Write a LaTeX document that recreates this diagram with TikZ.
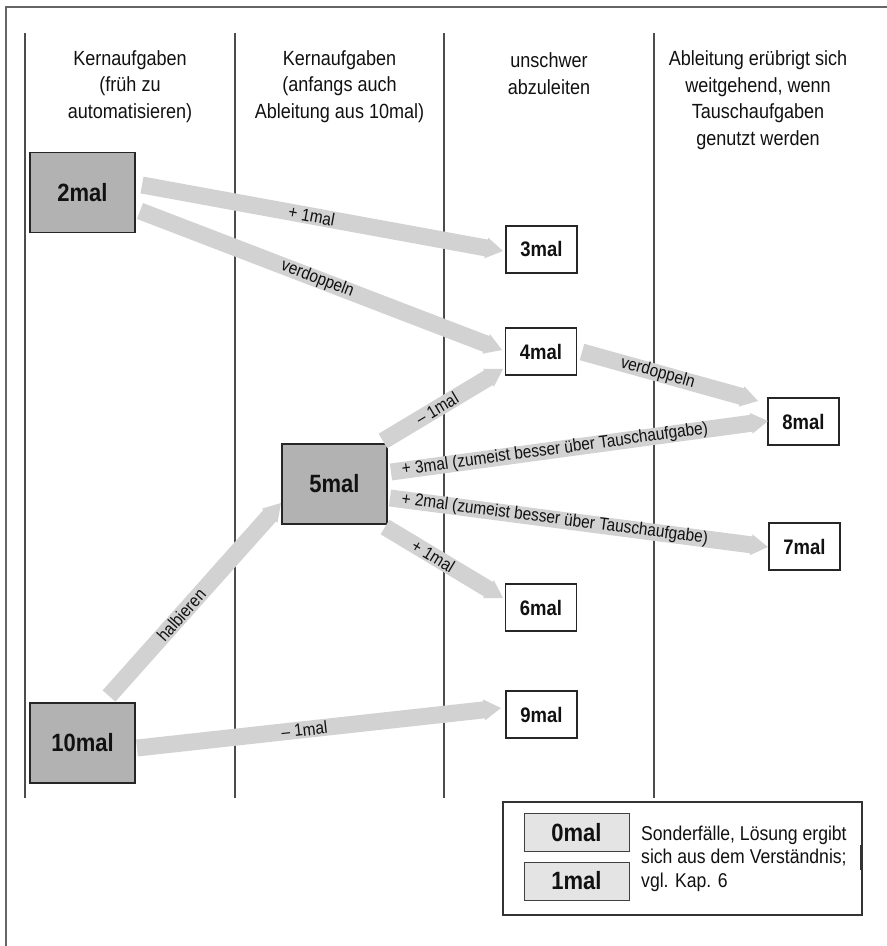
\documentclass[tikz,border=0pt]{standalone}
\usepackage{fontspec}
\setmainfont{Liberation Sans}[FakeStretch=0.88]
\usetikzlibrary{calc}
\definecolor{boxgray}{HTML}{B2B2B2}
\definecolor{arrowgray}{HTML}{D1D2D1}
\definecolor{leggray}{HTML}{E4E4E4}
\definecolor{linegray}{HTML}{666666}
\definecolor{txt}{HTML}{111111}
\newcommand\fatarrow[4]{%
  \coordinate (fa-h) at ($(#2)!17pt!(#1)$);
  \fill[arrowgray] ($(#1)!8.5pt!90:(#2)$) -- ($(fa-h)!8.5pt!90:(#2)$) -- ($(fa-h)!10.5pt!90:(#2)$) -- (#2)
     -- ($(fa-h)!10.5pt!-90:(#2)$) -- ($(fa-h)!8.5pt!-90:(#2)$) -- ($(#1)!8.5pt!-90:(#2)$) -- cycle;
  \path (#1) -- (#2) node[pos=#3, sloped, lab] {#4};
}
\begin{document}
\begin{tikzpicture}[x=1pt, y=-1pt,
  bigbox/.style={draw=black!85, line width=1.2pt, fill=boxgray, minimum width=105pt, minimum height=80pt, inner sep=0pt, font=\bfseries\fontsize{25}{28}\selectfont, text=txt},
  smallbox/.style={draw=black!85, line width=1.2pt, fill=white, minimum width=71pt, minimum height=47pt, inner sep=0pt, font=\bfseries\fontsize{21}{24}\selectfont, text=txt},
  legbox/.style={draw=black!75, line width=1pt, fill=leggray, minimum width=105pt, minimum height=38pt, inner sep=0pt, font=\bfseries\fontsize{25}{28}\selectfont, text=txt},
  header/.style={align=center, inner sep=0pt, font=\fontsize{20.5}{26.5}\selectfont, text=txt},
  lab/.style={inner sep=0pt, font=\fontsize{17.5}{19}\selectfont, text=txt},
  colline/.style={draw=black!70, line width=1.2pt},
  frameline/.style={draw=linegray, line width=1.8pt}
]
\useasboundingbox (0,0) rectangle (887,946);
% frame
\draw[frameline] (6,946) -- (6,7) -- (887,7);
% column lines
\foreach \cx in {25,235,444,654} \draw[colline] (\cx,33) -- (\cx,798);
% headers
\node[header] (h1) at (130,86.5) {Kernaufgaben\\(früh zu\\automatisieren)};
\node[header] (h2) at (339.5,86.5) {Kernaufgaben\\(anfangs auch\\Ableitung aus 10mal)};
\node[header] (h3) at (549,73.5) {unschwer\\abzuleiten};
\node[header] (h4) at (758,100) {Ableitung erübrigt sich\\weitgehend, wenn\\Tauschaufgaben\\genutzt werden};
% boxes
\node[bigbox] (n2) at (82.5,192.5) {2mal};
\node[bigbox] (n10) at (82.5,743) {10mal};
\node[bigbox] (n5) at (334.5,484) {5mal};
\node[smallbox] (n3) at (541.5,249.5) {3mal};
\node[smallbox] (n4) at (541,351.5) {4mal};
\node[smallbox] (n8) at (803.5,421.5) {8mal};
\node[smallbox] (n7) at (804.5,546.5) {7mal};
\node[smallbox] (n6) at (541,607.5) {6mal};
\node[smallbox] (n9) at (541.5,714.5) {9mal};
% arrow end points
\coordinate (a1s) at (142,185); \coordinate (a1e) at (503,251);
\coordinate (a2s) at (140,211); \coordinate (a2e) at (502,350);
\coordinate (a3s) at (582,352); \coordinate (a3e) at (758,401);
\coordinate (a4s) at (383,441); \coordinate (a4e) at (503,369);
\coordinate (a5s) at (391,472); \coordinate (a5e) at (768,421);
\coordinate (a6s) at (390,498); \coordinate (a6e) at (768,547);
\coordinate (a7s) at (385,527); \coordinate (a7e) at (503,598);
\coordinate (a8s) at (109,696); \coordinate (a8e) at (281,503);
\coordinate (a9s) at (137,748); \coordinate (a9e) at (501,708);
\fatarrow{a1s}{a1e}{0.47}{+ 1mal}
\fatarrow{a2s}{a2e}{0.49}{verdoppeln}
\fatarrow{a3s}{a3e}{0.43}{verdoppeln}
\fatarrow{a4s}{a4e}{0.45}{– 1mal}
\fatarrow{a5s}{a5e}{0.435}{+ 3mal (zumeist besser über Tauschaufgabe)}
\fatarrow{a6s}{a6e}{0.436}{+ 2mal (zumeist besser über Tauschaufgabe)}
\fatarrow{a7s}{a7e}{0.41}{+ 1mal}
\fatarrow{a8s}{a8e}{0.42}{halbieren}
\fatarrow{a9s}{a9e}{0.46}{– 1mal}
% legend
\node[draw=black!80, line width=1.2pt, fill=white, minimum width=359pt, minimum height=113pt, inner sep=0pt] (leg) at (682.5,858.5) {};
\node[legbox] (l0) at (576.5,832.5) {0mal};
\node[legbox] (l1) at (576.5,881) {1mal};
\node[anchor=west, align=left, inner sep=0pt, font=\fontsize{20}{23.5}\selectfont, text=txt] (lt) at (641,858.5) {Sonderfälle, Lösung ergibt\\sich aus dem Verständnis;\\vgl. Kap. 6};
\draw[black!80, line width=1pt] (860,845) -- (860,870);
\end{tikzpicture}
\end{document}
